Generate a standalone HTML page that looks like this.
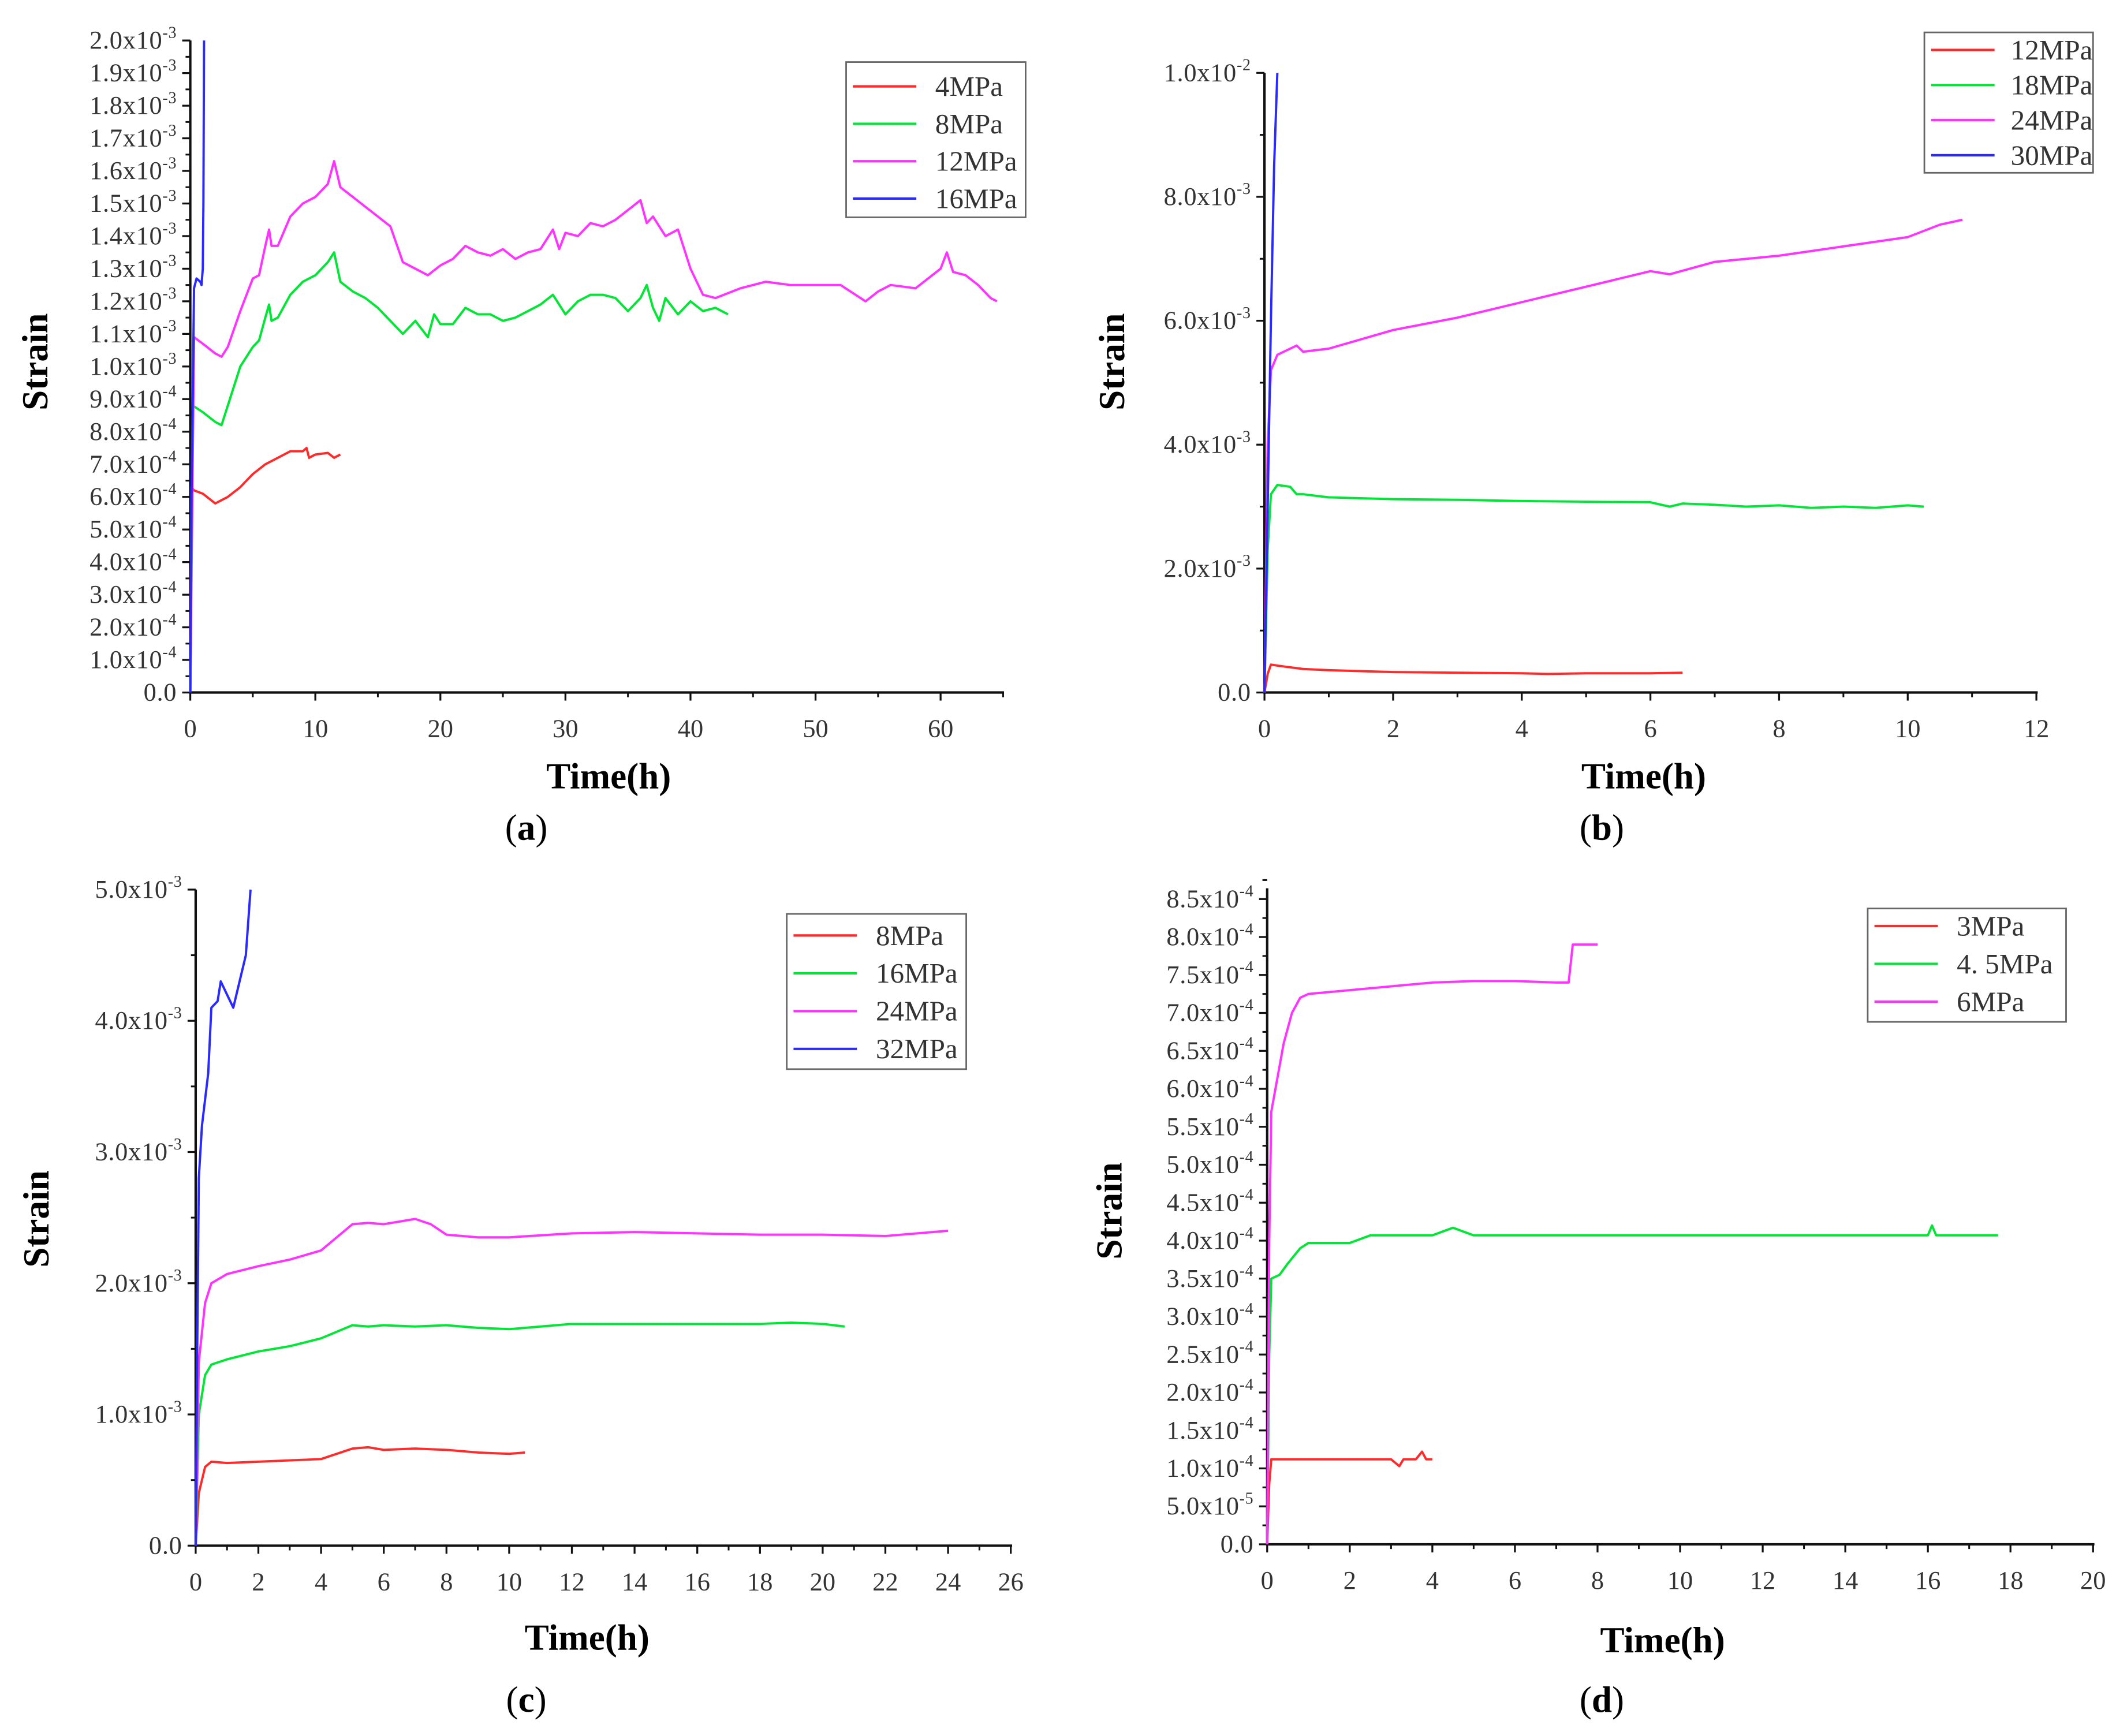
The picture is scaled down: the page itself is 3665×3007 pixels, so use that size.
<!DOCTYPE html>
<html><head><meta charset="utf-8"><style>
html,body{margin:0;padding:0;background:#fff}
svg{display:block}
text{font-family:"Liberation Serif","Noto Serif CJK SC",serif}
</style></head><body>
<svg id="fig" width="3665" height="3007" viewBox="0 0 1568 1286" preserveAspectRatio="none" xmlns="http://www.w3.org/2000/svg"></svg>
<script>
// ---- Panel a data (strain x1e-3) ----
const aT4=[0,0.1,0.3,1,2,3,4,5,6,7,8,9,9.3,9.5,10,11,11.5,12];
const aV4=[0,0.63,0.62,0.61,0.58,0.60,0.63,0.67,0.70,0.72,0.74,0.74,0.75,0.72,0.73,0.735,0.72,0.73];
const aT8=[0,0.2,1,2,2.5,3,4,5,5.5,6,6.3,6.5,7,8,9,10,11,11.5,12,13,14,15,16,17,18,19,19.5,20,21,22,23,24,25,26,27,28,29,30,31,32,33,34,35,36,36.5,37,37.5,38,39,40,41,42,43];
const aV8=[0,0.88,0.86,0.83,0.82,0.88,1.0,1.06,1.08,1.15,1.19,1.14,1.15,1.22,1.26,1.28,1.32,1.35,1.26,1.23,1.21,1.18,1.14,1.10,1.14,1.09,1.16,1.13,1.13,1.18,1.16,1.16,1.14,1.15,1.17,1.19,1.22,1.16,1.20,1.22,1.22,1.21,1.17,1.21,1.25,1.18,1.14,1.21,1.16,1.20,1.17,1.18,1.16];
const aT12=[0,0.3,1,2,2.5,3,4,5,5.5,6,6.3,6.5,7,8,9,10,11,11.5,12,13,14,15,16,17,18,19,20,21,22,23,24,25,26,27,28,29,29.5,30,31,32,33,34,35,36,36.5,37,38,39,40,41,42,44,46,48,50,52,54,55,56,58,60,60.5,61,62,63,64,64.5];
const aV12=[0,1.09,1.07,1.04,1.03,1.06,1.17,1.27,1.28,1.37,1.42,1.37,1.37,1.46,1.50,1.52,1.56,1.63,1.55,1.52,1.49,1.46,1.43,1.32,1.30,1.28,1.31,1.33,1.37,1.35,1.34,1.36,1.33,1.35,1.36,1.42,1.36,1.41,1.40,1.44,1.43,1.45,1.48,1.51,1.44,1.46,1.40,1.42,1.30,1.22,1.21,1.24,1.26,1.25,1.25,1.25,1.20,1.23,1.25,1.24,1.30,1.35,1.29,1.28,1.25,1.21,1.20];
const aT16=[0,0.1,0.3,0.5,0.8,0.9,1.0,1.05,1.1];
const aV16=[0,0.6,1.24,1.27,1.26,1.25,1.30,1.5,2.0];
const aYLabels=["0.0","1.0x10^-4","2.0x10^-4","3.0x10^-4","4.0x10^-4","5.0x10^-4","6.0x10^-4","7.0x10^-4","8.0x10^-4","9.0x10^-4","1.0x10^-3","1.1x10^-3","1.2x10^-3","1.3x10^-3","1.4x10^-3","1.5x10^-3","1.6x10^-3","1.7x10^-3","1.8x10^-3","1.9x10^-3","2.0x10^-3"];
const aXLabels=["0","10","20","30","40","50","60"];
const aLegend=["4MPa","8MPa","12MPa","16MPa"];
// ---- Panel b data (x1e-3) ----
const bT12=[0,0.05,0.1,0.3,0.6,1,2,3,4,4.4,5,6,6.5];
const bV12=[0,0.3,0.45,0.42,0.38,0.36,0.33,0.32,0.31,0.30,0.31,0.31,0.32];
const bT18=[0,0.05,0.1,0.2,0.4,0.5,0.6,1,2,3,4,5,6,6.3,6.5,7,7.5,8,8.5,9,9.5,10,10.25];
const bV18=[0,2.3,3.2,3.35,3.32,3.2,3.2,3.15,3.12,3.11,3.09,3.08,3.07,3.0,3.05,3.03,3.0,3.02,2.98,3.0,2.98,3.02,3.0];
const bT24=[0,0.05,0.1,0.2,0.4,0.5,0.6,1,2,3,4,5,6,6.3,7,8,9,10,10.5,10.85];
const bV24=[0,4,5.2,5.45,5.55,5.6,5.5,5.55,5.85,6.05,6.3,6.55,6.8,6.75,6.95,7.05,7.2,7.35,7.55,7.63];
const bT30=[0,0.05,0.1,0.15,0.2];
const bV30=[0,3,6,8.5,10];
const bYLabels=["0.0","2.0x10^-3","4.0x10^-3","6.0x10^-3","8.0x10^-3","1.0x10^-2"];
const bXLabels=["0","2","4","6","8","10","12"];
const bLegend=["12MPa","18MPa","24MPa","30MPa"];
// ---- Panel c data (x1e-3) ----
const cT8=[0,0.1,0.3,0.5,1,2,3,4,5,5.5,6,7,8,9,10,10.5];
const cV8=[0,0.4,0.6,0.64,0.63,0.64,0.65,0.66,0.74,0.75,0.73,0.74,0.73,0.71,0.70,0.71];
const cT16=[0,0.1,0.3,0.5,1,2,3,4,5,5.5,6,7,8,9,10,11,12,14,16,18,19,20,20.7];
const cV16=[0,1.0,1.3,1.38,1.42,1.48,1.52,1.58,1.68,1.67,1.68,1.67,1.68,1.66,1.65,1.67,1.69,1.69,1.69,1.69,1.70,1.69,1.67];
const cT24=[0,0.1,0.3,0.5,1,2,3,4,5,5.5,6,7,7.5,8,9,10,12,14,16,18,20,22,24];
const cV24=[0,1.4,1.85,2.0,2.07,2.13,2.18,2.25,2.45,2.46,2.45,2.49,2.45,2.37,2.35,2.35,2.38,2.39,2.38,2.37,2.37,2.36,2.40];
const cT32=[0,0.05,0.1,0.2,0.4,0.5,0.7,0.8,1.0,1.2,1.4,1.6,1.75];
const cV32=[0,1.5,2.8,3.2,3.6,4.1,4.15,4.3,4.2,4.1,4.3,4.5,5.0];
const cYLabels=["0.0","1.0x10^-3","2.0x10^-3","3.0x10^-3","4.0x10^-3","5.0x10^-3"];
const cXLabels=["0","2","4","6","8","10","12","14","16","18","20","22","24","26"];
const cLegend=["8MPa","16MPa","24MPa","32MPa"];
// ---- Panel d data (x1e-4) ----
const dT3=[0,0.05,0.1,1,2,3,3.2,3.3,3.6,3.75,3.85,4];
const dV3=[0,0.8,1.12,1.12,1.12,1.12,1.03,1.12,1.12,1.22,1.12,1.12];
const dT45=[0,0.05,0.1,0.3,0.5,0.8,1,2,2.5,3,4,4.5,5,6,7,8,10,12,14,16,16.1,16.2,17.7];
const dV45=[0,2.5,3.5,3.55,3.7,3.9,3.97,3.97,4.07,4.07,4.07,4.17,4.07,4.07,4.07,4.07,4.07,4.07,4.07,4.07,4.2,4.07,4.07];
const dT6=[0,0.05,0.1,0.2,0.4,0.6,0.8,1,2,3,4,5,6,7,7.3,7.4,8];
const dV6=[0,4,5.7,6.0,6.6,7.0,7.2,7.25,7.3,7.35,7.4,7.42,7.42,7.4,7.4,7.9,7.9];
const dYLabels=["0.0","5.0x10^-5","1.0x10^-4","1.5x10^-4","2.0x10^-4","2.5x10^-4","3.0x10^-4","3.5x10^-4","4.0x10^-4","4.5x10^-4","5.0x10^-4","5.5x10^-4","6.0x10^-4","6.5x10^-4","7.0x10^-4","7.5x10^-4","8.0x10^-4","8.5x10^-4"];
const dXLabels=["0","2","4","6","8","10","12","14","16","18","20"];
const dLegend=["3MPa","4. 5MPa","6MPa"];

const COLORS=["#ff2a2a","#00e634","#ff33ff","#2a2aff"];
const NS="http://www.w3.org/2000/svg";
const svg=document.getElementById('fig');
function mk(tag,attrs,parent){const e=document.createElementNS(NS,tag);for(const k in attrs)e.setAttribute(k,attrs[k]);(parent||svg).appendChild(e);return e;}

function panel(cfg){
  const g=mk('g',{});
  
  
  const xs=v=>cfg.x0+(v)/(cfg.xmax)*(cfg.x1-cfg.x0);
  const ys=v=>cfg.y0-(v)/(cfg.ymax)*(cfg.y0-cfg.y1);
  const xend=cfg.xend||cfg.x1;
  const ax=mk('path',{d:`M${cfg.x0},${cfg.ytop} L${cfg.x0},${cfg.y0} L${xend+1},${cfg.y0}`,stroke:'#111',fill:'none','stroke-width':1.8},g);
  
  
  const nY=cfg.yLabels.length;
  for(let i=0;i<nY;i++){
    const v=i*cfg.ymax/(nY-1), y=ys(v);
    mk('line',{x1:cfg.x0-6,y1:y,x2:cfg.x0,y2:y,stroke:'#111','stroke-width':1.4},g);
    if(i<nY-1||cfg.ytop<cfg.y1-3){const ym=ys(v+cfg.ymax/(nY-1)/2);mk('line',{x1:cfg.x0-3.5,y1:ym,x2:cfg.x0,y2:ym,stroke:'#111','stroke-width':1.3},g);}
    const lab=cfg.yLabels[i];
    const t=mk('text',{x:cfg.x0-10,y:y+6,'text-anchor':'end','font-size':19,'letter-spacing':0.3,fill:'#333'},g);
    
    
    if(lab.includes('^')){const [m,e]=lab.split('^');t.textContent=m;const s=mk('tspan',{dy:-8,'font-size':12},t);s.textContent=e;}
    else t.textContent=lab;
  }
  const nX=cfg.xLabels.length;
  const xstep=cfg.xmax/(nX-1);
  for(let i=0;i<nX;i++){
    const v=i*xstep, x=xs(v);
    mk('line',{x1:x,y1:cfg.y0,x2:x,y2:cfg.y0+6,stroke:'#111','stroke-width':1.4},g);
    const vm=v+xstep/2;
    if(xs(vm)<=xend+1){const xm=xs(vm);mk('line',{x1:xm,y1:cfg.y0,x2:xm,y2:cfg.y0+3.5,stroke:'#111','stroke-width':1.3},g);}
    const t=mk('text',{x:x,y:cfg.y0+33,'text-anchor':'middle','font-size':19,fill:'#333'},g);
    
    
    t.textContent=cfg.xLabels[i];
  }
  cfg.series.forEach((s,k)=>{
    const d=s.t.map((tv,i)=>(i?'L':'M')+xs(tv).toFixed(2)+','+ys(s.v[i]).toFixed(2)).join(' ');
    const p=mk('path',{d:d,stroke:COLORS[s.c],fill:'none','stroke-width':1.7,'stroke-linejoin':'round'},g);
    
    
  });
  const L=cfg.leg;
  const lg=mk('g',{},g);
  
  
  mk('rect',{x:L.x,y:L.y,width:L.w,height:L.h,fill:'#fff',stroke:'#666','stroke-width':1.2},lg);
  cfg.legend.forEach((name,k)=>{
    const yy=L.y+L.first+k*L.step;
    mk('line',{x1:L.x+5,y1:yy,x2:L.x+52,y2:yy,stroke:COLORS[cfg.series[k].c],'stroke-width':1.8},lg);
    const t=mk('text',{x:L.x+L.tx,y:yy+7,'font-size':21,fill:'#333'},lg);
    
    
    t.textContent=name;
  });
  const yt=mk('text',{x:0,y:0,transform:`translate(${cfg.sx},${cfg.sy}) rotate(-90)`,'text-anchor':'middle','font-size':27,'font-weight':'bold',fill:'#000'},g);
  
  
  yt.textContent='Strain';
  const xt=mk('text',{x:cfg.tx,y:cfg.ty,'text-anchor':'middle','font-size':27,'font-weight':'bold',fill:'#000'},g);
  
  
  xt.textContent='Time(h)';
  const pl=mk('text',{x:cfg.px,y:cfg.py,'text-anchor':'middle','font-size':27,fill:'#000'},g);
  
  
  pl.textContent='(';
  const b=mk('tspan',{'font-weight':'bold'},pl);b.textContent=cfg.id;
  const c=mk('tspan',{},pl);c.textContent=')';
}

panel({id:'a',x0:141,x1:697,xend:743,xmax:60,y0:513,y1:30,ytop:30,ymax:2.0,
  yLabels:aYLabels,xLabels:aXLabels,legend:aLegend,
  series:[{t:aT4,v:aV4,c:0},{t:aT8,v:aV8,c:1},{t:aT12,v:aV12,c:2},{t:aT16,v:aV16,c:3}],
  leg:{x:627,y:46,w:133,h:115,first:18,step:27.7,tx:66},sx:35,sy:268,tx:451,ty:584,px:390,py:622});
panel({id:'b',x0:937,x1:1509,xmax:12,y0:513,y1:54,ytop:54,ymax:10,
  yLabels:bYLabels,xLabels:bXLabels,legend:bLegend,
  series:[{t:bT12,v:bV12,c:0},{t:bT18,v:bV18,c:1},{t:bT24,v:bV24,c:2},{t:bT30,v:bV30,c:3}],
  leg:{x:1426,y:24,w:125,h:104,first:13,step:26,tx:64},sx:833,sy:268,tx:1218,ty:584,px:1187,py:622});
panel({id:'c',x0:145,x1:749,xmax:26,y0:1145,y1:659,ytop:659,ymax:5,
  yLabels:cYLabels,xLabels:cXLabels,legend:cLegend,
  series:[{t:cT8,v:cV8,c:0},{t:cT16,v:cV16,c:1},{t:cT24,v:cV24,c:2},{t:cT32,v:cV32,c:3}],
  leg:{x:583,y:677,w:133,h:115,first:16,step:28,tx:66},sx:36,sy:903,tx:435,ty:1222,px:390,py:1268});
panel({id:'d',x0:939,x1:1551,xmax:20,y0:1144,y1:666,ytop:658,ymax:8.5,
  yLabels:dYLabels,xLabels:dXLabels,legend:dLegend,
  series:[{t:dT3,v:dV3,c:0},{t:dT45,v:dV45,c:1},{t:dT6,v:dV6,c:2}],
  leg:{x:1384,y:673,w:147,h:84,first:13,step:28,tx:66},sx:831,sy:897,tx:1232,ty:1224,px:1187,py:1268});
</script>
</body></html>
